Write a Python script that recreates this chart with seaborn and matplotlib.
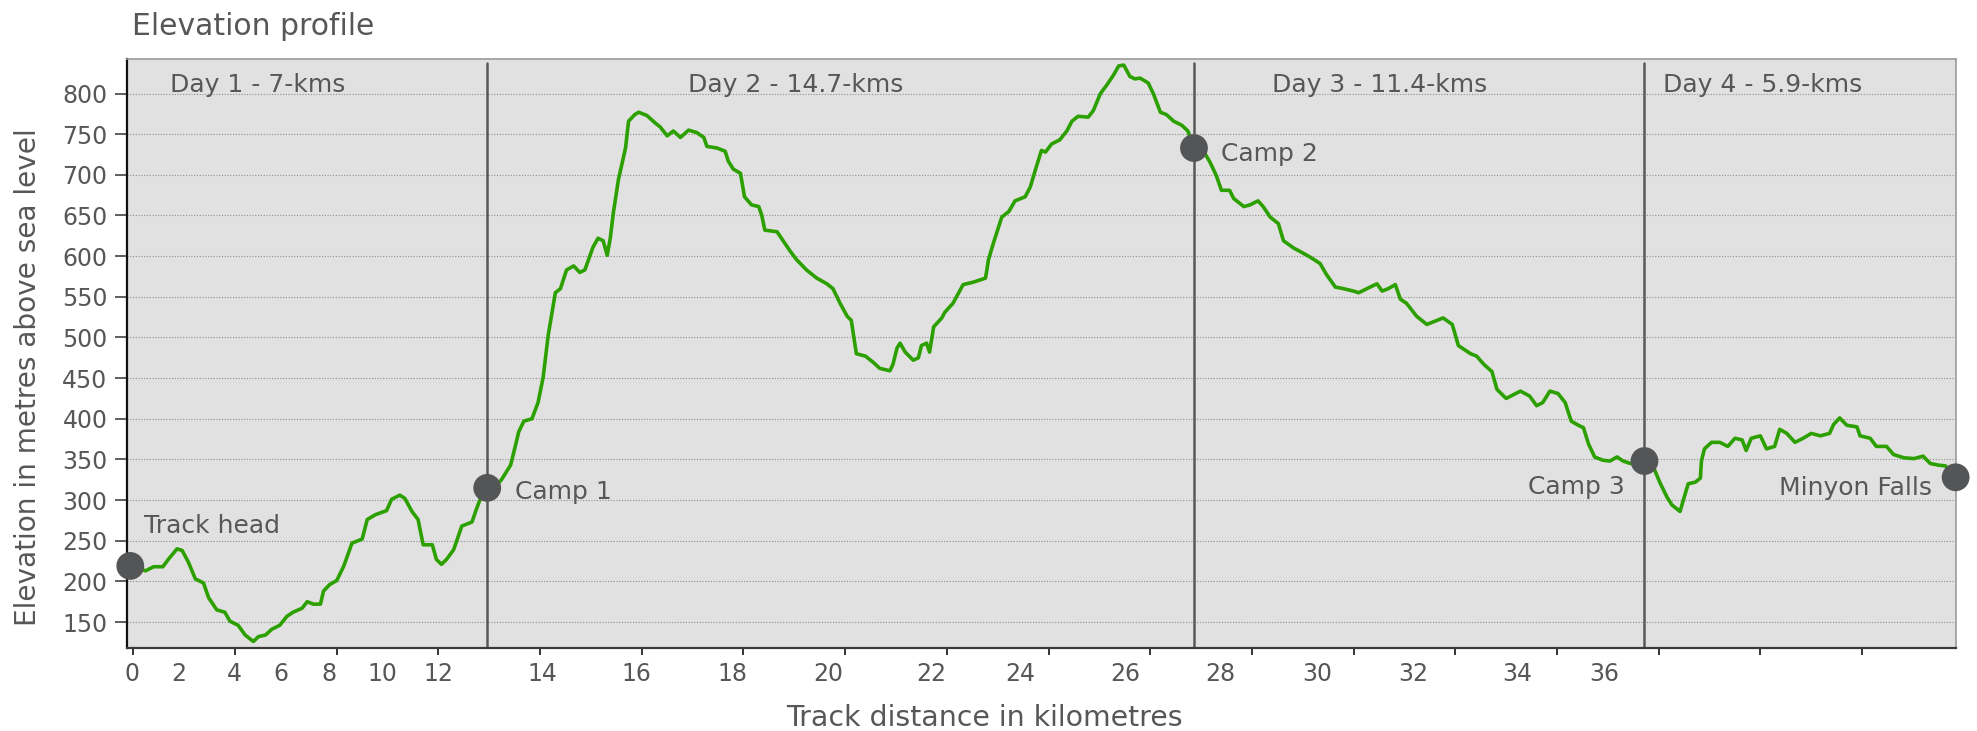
import matplotlib
matplotlib.use('Agg')   # no display
import matplotlib.pyplot as plt
import matplotlib.ticker as mticker
import pandas as pd
import seaborn as sns

# ---------------------------------------------------------
# data: position = point number along the GPS log
# (the plotting tool puts a tick every 100 points)
# ---------------------------------------------------------
track_pos = [
    -3, 12, 20, 29, 35, 43, 48, 54, 61, 69, 74, 82, 90, 95, 103, 110, 118, 123,
    130, 136, 144, 151, 157, 166, 171, 177, 184, 187, 193, 200, 207, 215, 225,
    230, 238, 249, 254, 262, 267, 274, 280, 285, 294, 298, 303, 308, 315, 323,
    333, 338, 343, 348, 356, 362, 371, 374, 379, 384, 392, 398, 403, 408, 415,
    420, 426, 433, 439, 444, 452, 457, 462, 466, 469, 472, 477, 484, 487, 493,
    497, 505, 513, 518, 525, 531, 538, 546, 554, 561, 564, 574, 582, 585, 590,
    597, 601, 608, 615, 618, 621, 633, 639, 646, 652, 662, 672, 682, 688, 695,
    702, 706, 711, 720, 728, 734, 744, 747, 751, 754, 759, 767, 772, 775, 780,
    783, 787, 795, 798, 806, 816, 826, 838, 841, 846, 854, 861, 867, 877, 882,
    888, 893, 897, 903, 911, 918, 923, 929, 939, 944, 951, 957, 964, 969, 974,
    980, 985, 990, 998, 1003, 1010, 1016, 1023, 1031, 1037, 1043, 1052, 1059,
    1065, 1070, 1078, 1082, 1092, 1098, 1106, 1111, 1118, 1126, 1131, 1141,
    1147, 1157, 1167, 1173, 1182, 1190, 1200, 1205, 1213, 1223, 1228, 1234,
    1241, 1246, 1252, 1262, 1272, 1278, 1288, 1297, 1303, 1315, 1321, 1328,
    1336, 1341, 1350, 1364, 1373, 1380, 1386, 1393, 1401, 1408, 1414, 1421,
    1426, 1431, 1437, 1445, 1452, 1459, 1465, 1472, 1486, 1495, 1501, 1508,
    1513, 1521, 1524, 1529, 1536, 1541, 1542, 1545, 1552, 1560, 1568, 1575,
    1582, 1586, 1591, 1600, 1606, 1614, 1619, 1626, 1634, 1642, 1650, 1659,
    1668, 1672, 1678, 1685, 1695, 1698, 1708, 1714, 1724, 1731, 1741, 1751,
    1760, 1767, 1775, 1782, 1792,
]
elevation = [
    219, 213, 218, 218, 228, 240, 238, 224, 203, 198, 180, 165, 162, 151, 146,
    134, 126, 132, 134, 141, 146, 157, 162, 167, 175, 172, 172, 188, 196, 201,
    219, 247, 252, 276, 282, 287, 301, 306, 302, 286, 276, 245, 245, 227, 221,
    227, 239, 268, 273, 291, 307, 315, 317, 325, 343, 358, 384, 397, 400, 420,
    451, 503, 555,
    560, 583, 588, 580, 583, 611, 622, 619, 601, 622, 653, 694, 733, 766, 774,
    777, 773, 764, 759, 748, 754, 746, 755, 752, 746, 735, 733, 729, 717, 707,
    702, 673, 663, 661, 650, 632, 630, 619, 606, 596, 583, 573, 566, 560, 542,
    526, 521, 480, 477, 469, 462, 459, 467, 487, 493, 482, 472, 475, 490, 493,
    482, 513, 524, 531, 542, 565, 568, 573, 596, 617, 648, 655, 668, 673, 685,
    710, 730, 728, 738, 743, 754, 766, 772, 771, 779, 800, 810, 823, 834, 835,
    821, 818, 819, 813, 800, 777, 774, 766, 761, 754, 734, 730, 715, 699, 681,
    681, 671, 661, 663, 668, 661, 648, 640, 619, 610, 606, 599, 591, 578, 562,
    560, 557, 555, 560, 566, 557, 560, 565, 547, 542, 526, 516, 519, 524, 516,
    490, 480, 477, 467, 458, 436, 425, 434, 428, 416, 420, 434, 431, 420, 397,
    392, 389, 369, 353, 349, 348, 353, 348, 345, 348, 340, 322, 304, 294, 286,
    299, 320, 322, 327, 348, 363, 371, 371, 366, 376, 374, 361, 376, 379, 363,
    366, 387, 382, 371, 376, 382, 379, 382, 393, 401, 392, 390, 379, 376, 366,
    366, 356, 352, 351, 354, 345, 343, 342, 328,
]

# where each even kilometre falls along the log
km_marks = [0, 2, 4, 6, 8, 10, 12, 14, 16, 18, 20, 22, 24, 26, 28, 30, 32, 34, 36]
km_pos = [-1, 45, 99, 145, 192, 245, 300, 402, 495, 589, 683, 785, 872,
          975, 1069, 1164, 1259, 1361, 1446]

stop_names = ["Track head", "Camp 1", "Camp 2", "Camp 3", "Minyon Falls"]
stop_pos = [-3, 348, 1043, 1486, 1792]
stop_elev = [219, 315, 733, 348, 328]

day_labels = ["Day 1 - 7-kms", "Day 2 - 14.7-kms", "Day 3 - 11.4-kms", "Day 4 - 5.9-kms"]

# ---------------------------------------------------------
# style
# ---------------------------------------------------------
sns.set_style("ticks")
plt.rcParams['font.family'] = ['DejaVu Sans']
TXT = '#575757'

fig = plt.figure(figsize=(19.77, 7.31), dpi=100)
ax = fig.add_axes([0.0641, 0.1135, 0.9253, 0.8058])
ax.set_facecolor('#e1e1e1')

df = pd.DataFrame({'pos': track_pos, 'elev': elevation})
sns.lineplot(data=df, x='pos', y='elev', color='#2ca000', linewidth=2.6,
             estimator=None, sort=False, ax=ax, zorder=3)

# day boundaries at the camps
for p in stop_pos[1:4]:
    ax.axvline(p, ymin=0, ymax=0.994, color='#585858', lw=1.8, zorder=2)

sns.scatterplot(x=stop_pos, y=stop_elev, s=400, color='#545557',
                edgecolor='none', ax=ax, zorder=5, clip_on=False)

# stop labels (offsets in points from the marker)
label_off = [(10, 23.5, 'left'), (20, -8, 'left'), (19.5, -9, 'left'),
             (-14.5, -24, 'right'), (-17, -12.5, 'right')]
for name, x, y, (dx, dy, ha) in zip(stop_names, stop_pos, stop_elev, label_off):
    ax.annotate(name, (x, y), xytext=(dx, dy), textcoords='offset points',
                ha=ha, va='baseline', fontsize=18, color=TXT, zorder=6)

# day labels along the top
day_x = [122, 651, 1226, 1602]
for lbl, x in zip(day_labels, day_x):
    ax.text(x, 0.9436, lbl, transform=ax.get_xaxis_transform(),
            ha='center', va='baseline', fontsize=18, color=TXT, zorder=6)

ax.set_xlim(-6.5, 1792.4)
ax.set_ylim(118, 842.5)

ax.set_yticks(range(150, 801, 50))
ax.yaxis.grid(True, linestyle=(0, (1, 1.5)), color='#8e8e8e', linewidth=0.8)
ax.xaxis.grid(False)
ax.set_axisbelow(True)
ax.tick_params(axis='y', length=8.6, width=1.1, color='#333333', pad=5.2,
               labelsize=17, labelcolor=TXT)

ax.set_xticks(km_pos)
ax.set_xticklabels([str(k) for k in km_marks])
ax.xaxis.remove_overlapping_locs = False
ax.xaxis.set_minor_locator(mticker.MultipleLocator(100))
ax.tick_params(axis='x', which='major', length=0, pad=9.9,
               labelsize=17, labelcolor=TXT)
ax.tick_params(axis='x', which='minor', length=5, width=1.4,
               color='#333333', direction='out')

for side in ['top', 'right']:
    ax.spines[side].set_color('#9b9b9b')
    ax.spines[side].set_linewidth(1.2)
ax.spines['left'].set_color('#111111')
ax.spines['left'].set_linewidth(1.6)
ax.spines['bottom'].set_color('#3a3a3a')
ax.spines['bottom'].set_linewidth(1.6)

ax.set_xlabel('Track distance in kilometres', fontsize=20.4, color=TXT)
ax.set_ylabel('Elevation in metres above sea level', fontsize=20.2, color=TXT)
ax.xaxis.set_label_coords(0.4687, -0.095)
ax.yaxis.set_label_coords(-0.0463, 0.46)

fig.text(0.0668, 0.952, 'Elevation profile', fontsize=21.5, color=TXT,
         ha='left', va='baseline')

fig.savefig('out.png', dpi=100)
plt.close(fig)
